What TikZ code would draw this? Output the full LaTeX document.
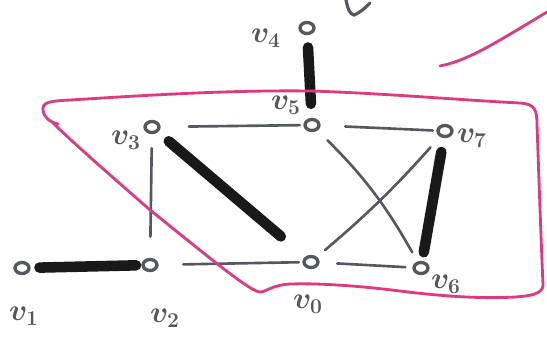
\documentclass[tikz,border=0pt]{standalone}
\usetikzlibrary{shapes.geometric}
\usepackage{amsmath}

\definecolor{ink}{RGB}{85,88,94}
\definecolor{marker}{RGB}{222,58,128}

\tikzset{
  vert/.style={ellipse,draw=ink,line width=1.9pt,minimum width=0.28cm,minimum height=0.22cm,inner sep=0pt},
  lab/.style={text=ink,font=\LARGE\boldmath},
  thin/.style={draw=ink,line width=1.5pt,line cap=round},
  heavy/.style={draw=black!90,line width=6pt,line cap=round}
}

\begin{document}
\begin{tikzpicture}[x=0.02cm,y=-0.02cm]
\useasboundingbox (0,0) rectangle (547,336);
% vertices
\node[vert] (v1) at (22,268) {};
\node[vert] (v2) at (150,265) {};
\node[vert] (v3) at (152,127) {};
\node[vert] (v4) at (307,28) {};
\node[vert] (v5) at (312,125) {};
\node[vert] (v7) at (445,131) {};
\node[vert] (v0) at (311,262) {};
\node[vert] (v6) at (421,268) {};
% labels
\node[lab] (l1) at (24,316) {$v_1$};
\node[lab] (l2) at (165,318) {$v_2$};
\node[lab] (l3) at (126,140) {$v_3$};
\node[lab] (l4) at (266,38) {$v_4$};
\node[lab] (l5) at (286,105) {$v_5$};
\node[lab] (l7) at (472,138) {$v_7$};
\node[lab] (l0) at (308,304) {$v_0$};
\node[lab] (l6) at (446,284) {$v_6$};
% light edges
\draw[thin,shorten <=14pt,shorten >=2pt] (v2) -- (v0);
\draw[thin,shorten <=10pt,shorten >=4pt] (v0) -- (v6);
\draw[thin,shorten <=16pt,shorten >=2pt] (v3) -- (v5);
\draw[thin,shorten <=14pt,shorten >=2pt] (v5) -- (v7);
\draw[thin,shorten <=8pt,shorten >=12pt] (v3) -- (v2);
\draw[thin,shorten <=8pt,shorten >=6pt] (v5) to[bend left=8] (v6);
\draw[thin,shorten <=6pt,shorten >=8pt] (v0) to[bend right=4] (v7);
% heavy edges
\draw[heavy,shorten <=5pt,shorten >=3pt] (v1) -- (v2);
\draw[heavy,shorten <=8pt,shorten >=18pt] (v3) -- (v0);
\draw[heavy,shorten <=7pt,shorten >=8pt] (v4) -- (v5);
\draw[heavy,shorten <=8pt,shorten >=5pt] (v7) -- (v6);
% marker loop
\draw[marker,line width=1.6pt,line cap=round,line join=round]
  (58,124) .. controls (50,122) and (44,118) .. (43,110)
  .. controls (42,102) and (50,101) .. (70,100)
  .. controls (150,95) and (230,90) .. (310,91)
  .. controls (380,93) and (460,100) .. (520,103)
  .. controls (535,104) and (537,110) .. (537,125)
  .. controls (539,180) and (541,240) .. (543,285)
  .. controls (543,294) and (530,296) .. (515,297)
  .. controls (480,299) and (440,296) .. (400,291)
  .. controls (360,286) and (320,283) .. (290,284)
  .. controls (272,285) and (266,292) .. (260,292)
  .. controls (250,292) and (200,250) .. (150,210)
  .. controls (110,175) and (70,140) .. (52,122);
\draw[marker,line width=1.6pt,line cap=round]
  (440,66) .. controls (470,60) and (500,40) .. (547,12);
% stray stroke at the top
\draw[thin,line width=1.8pt] (346,0) .. controls (348,10) and (350,14) .. (354,15) .. controls (360,13) and (366,7) .. (370,3);
\end{tikzpicture}
\end{document}
